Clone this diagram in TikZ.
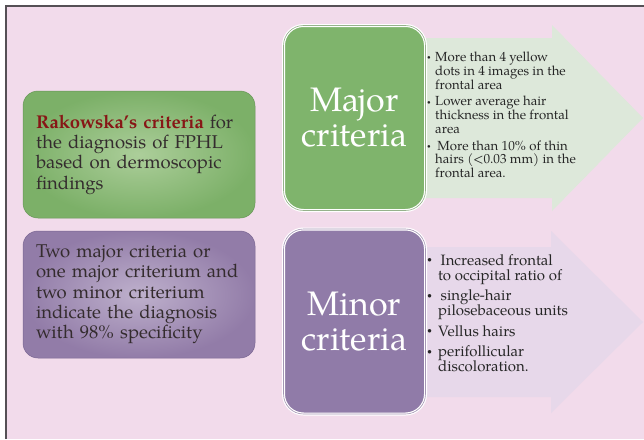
\documentclass[tikz,border=0pt]{standalone}
\usepackage{fontspec}
\setmainfont{TeX Gyre Pagella}
\definecolor{slidepink}{RGB}{242,219,235}
\definecolor{framegray}{RGB}{85,80,85}
\definecolor{majgreen}{RGB}{127,180,108}
\definecolor{leafgreen}{RGB}{124,176,104}
\definecolor{leaflight}{RGB}{172,206,154}
\definecolor{leafedge}{RGB}{104,150,88}
\definecolor{majedge}{RGB}{150,178,140}
\definecolor{minplum}{RGB}{144,123,168}
\definecolor{plumdark}{RGB}{146,124,168}
\definecolor{plumlight}{RGB}{190,176,204}
\definecolor{plumedge}{RGB}{122,102,146}
\definecolor{minedge}{RGB}{165,150,180}
\definecolor{majarrow}{RGB}{221,232,218}
\definecolor{minarrow}{RGB}{231,216,234}
\definecolor{inkgray}{RGB}{52,44,46}
\definecolor{rakored}{RGB}{135,22,22}
\def\listdot#1{\raisebox{0.3ex}{\scalebox{#1}{\textbullet}}}

\tikzset{
  infobox/.style={rounded corners=15pt, minimum width=232pt, minimum height=127pt,
    inner xsep=13pt, text width=206pt, align=left, text=inkgray, line width=0.5pt,
    font=\fontsize{18.5}{20.3}\selectfont},
  critbox/.style={rounded corners=20pt, minimum width=142pt, minimum height=185pt,
    draw=white, line width=1.2pt, double distance=0.6pt, align=center, text=white,
    font=\fontsize{34}{35}\selectfont},
  bullets/.style={anchor=west, align=left, text=black!85, inner sep=0pt}
}

\begin{document}
\begin{tikzpicture}[x=1pt, y=-1pt]
		%%%%% START %%%%%
		\useasboundingbox (0,0) rectangle (644,439);
		\fill[white] (0,0) rectangle (644,439);
		\fill[slidepink] (6,6) rectangle (644,439);
		\draw[line width=1.5pt, color=framegray] (6,439) -- (6,6) -- (644,6);
		
		% arrows behind the criteria boxes
		\fill[majarrow] (410,38) -- (552,38) -- (552,25) -- (643,118) -- (552,211) -- (552,198) -- (410,198) -- cycle;
		\fill[minarrow] (410,247) -- (551,247) -- (551,231) -- (643,322) -- (551,413) -- (551,397) -- (410,397) -- cycle;
		
		\node[infobox, shade, inner color=leaflight, outer color=leafgreen, draw=leafedge] (rakbox) at (139,154.5)
			{\textcolor{rakored}{\bfseries Rakowska's criteria} for\\ the diagnosis of FPHL\\ based on dermoscopic\\ findings};
		\node[infobox, shade, inner color=plumlight, outer color=plumdark, draw=plumedge] (rulebox) at (139,294.5)
			{Two major criteria or\\ one major criterium and\\ two minor criterium\\ indicate the diagnosis\\ with 98\% specificity};
		
		\node[critbox, fill=majgreen, double=majedge] (major) at (354.5,118) {Major\\criteria};
		\node[critbox, fill=minplum, double=minedge] (minor) at (354.5,321.5) {Minor\\criteria};
		
		\node[bullets, font=\fontsize{13.2}{13.7}\selectfont] (majlist) at (427,117) {\begin{tabular}{@{}p{8pt}@{}l@{}}
			\listdot{0.5} & More than 4 yellow\\ & dots in 4 images in the\\ & frontal area\\[3pt]
			\listdot{0.5} & Lower average hair\\ & thickness in the frontal\\ & area\\[3pt]
			\listdot{0.5} & \,More than 10\% of thin\\ & hairs (<0.03 mm) in the\\ & frontal area.
		\end{tabular}};
		\node[bullets, font=\fontsize{15}{14.5}\selectfont] (minlist) at (427,315) {\begin{tabular}{@{}p{11pt}@{}l@{}}
			\listdot{0.6} & \,Increased frontal\\ & to occipital ratio of\\[5pt]
			\listdot{0.6} & \,single-hair\\ & pilosebaceous units\\[5pt]
			\listdot{0.6} & Vellus hairs\\[5pt]
			\listdot{0.6} & perifollicular\\ & discoloration.
		\end{tabular}};
		
		%%%%% END %%%%%
\end{tikzpicture}
\end{document}
